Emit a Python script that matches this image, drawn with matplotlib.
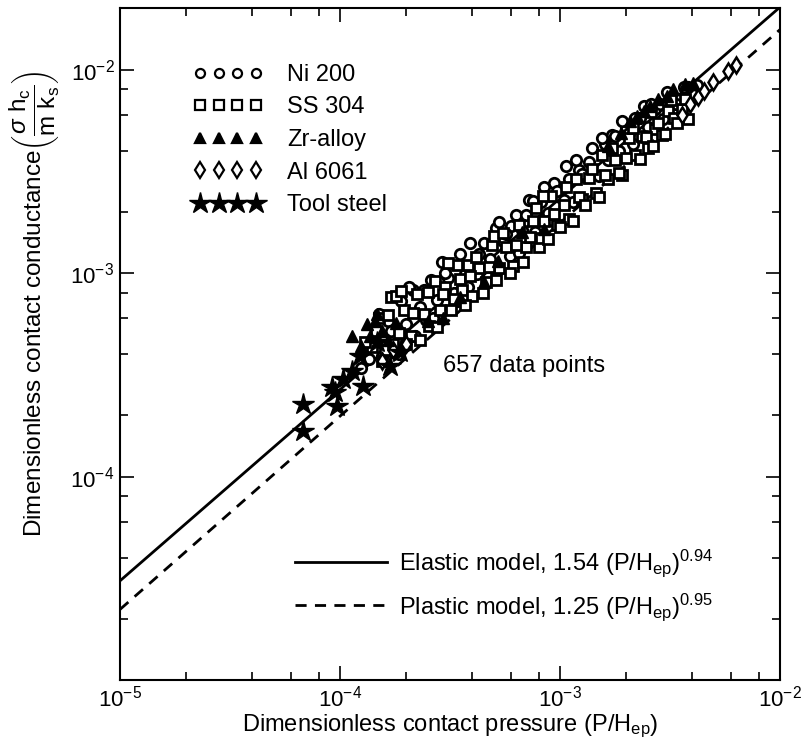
import matplotlib
matplotlib.use('Agg')
import matplotlib.pyplot as plt
from matplotlib.lines import Line2D
from matplotlib.ticker import LogLocator, NullFormatter
import numpy as np

plt.rcParams['font.family'] = ['Liberation Sans', 'DejaVu Sans']
plt.rcParams['mathtext.fontset'] = 'custom'
plt.rcParams['mathtext.rm'] = 'Liberation Sans'
plt.rcParams['mathtext.it'] = 'Liberation Sans:italic'
plt.rcParams['mathtext.sf'] = 'Liberation Sans'

# Ni 200 (circles)
ni_x = [1.35e-4, 1.45e-4, 1.55e-4, 1.65e-4, 1.75e-4, 1.9e-4, 2.0e-4, 2.15e-4, 2.3e-4, 2.45e-4,
        2.6e-4, 2.75e-4, 2.9e-4, 3.1e-4, 3.3e-4, 3.5e-4, 3.7e-4, 3.9e-4, 4.2e-4, 4.5e-4,
        4.8e-4, 5.1e-4, 5.5e-4, 5.9e-4, 6.3e-4, 6.7e-4, 7.2e-4, 7.7e-4, 8.2e-4, 8.8e-4,
        9.4e-4, 1.0e-3, 1.07e-3, 1.14e-3, 1.22e-3, 1.3e-3, 1.4e-3, 1.5e-3, 1.6e-3, 1.72e-3,
        1.85e-3, 2.0e-3, 2.15e-3, 2.3e-3, 2.5e-3, 2.7e-3, 2.95e-3, 3.2e-3, 3.5e-3, 3.8e-3,
        1.25e-4, 2.2e-4, 6.0e-4, 1.1e-3, 2.4e-3,
        1.5e-4, 1.7e-4, 1.85e-4, 2.05e-4, 2.4e-4, 2.65e-4, 3.0e-4, 3.4e-4, 3.8e-4, 4.3e-4,
        4.7e-4, 5.3e-4, 5.7e-4, 6.5e-4, 7.0e-4, 7.5e-4, 8.5e-4, 9.1e-4, 9.7e-4, 1.04e-3,
        1.18e-3, 1.26e-3, 1.35e-3, 1.55e-3, 1.65e-3, 1.78e-3, 1.92e-3, 2.05e-3, 2.2e-3, 2.6e-3,
        2.85e-3, 3.05e-3, 3.35e-3, 3.65e-3, 4.2e-3]
ni_y = [3.8e-4, 4.6e-4, 3.9e-4, 5.8e-4, 4.1e-4, 7.3e-4, 5.6e-4, 8.3e-4, 6.8e-4, 5.9e-4,
        9.3e-4, 7.4e-4, 1.13e-3, 9.5e-4, 8.0e-4, 1.24e-3, 9.9e-4, 1.41e-3, 9.9e-4, 1.41e-3,
        1.17e-3, 1.66e-3, 1.44e-3, 1.21e-3, 1.94e-3, 1.62e-3, 2.28e-3, 1.6e-3, 2.24e-3, 1.98e-3,
        2.77e-3, 2.38e-3, 3.35e-3, 2.23e-3, 3.2e-3, 2.96e-3, 4.1e-3, 3.0e-3, 4.3e-3, 4.8e-3,
        4.0e-3, 5.25e-3, 4.3e-3, 5.8e-3, 5.2e-3, 6.4e-3, 5.7e-3, 7.6e-3, 7.2e-3, 8.2e-3,
        3.4e-4, 4.9e-4, 1.7e-3, 2.9e-3, 6.6e-3,
        6.3e-4, 5.2e-4, 4.0e-4, 8.5e-4, 8.3e-4, 6.0e-4, 1.0e-3, 7.3e-4, 8.5e-4, 1.24e-3,
        9.6e-4, 1.79e-3, 1.55e-3, 1.26e-3, 1.93e-3, 2.27e-3, 2.65e-3, 1.82e-3, 2.54e-3, 2.3e-3,
        3.6e-3, 3.07e-3, 3.5e-3, 4.6e-3, 3.6e-3, 4.7e-3, 5.6e-3, 4.9e-3, 5.8e-3, 6.8e-3,
        6.8e-3, 7.8e-3, 6.8e-3, 8.2e-3, 8.4e-3]

# SS 304 (squares)
ss_x = [1.4e-4, 1.5e-4, 1.6e-4, 1.7e-4, 1.8e-4, 1.85e-4, 1.95e-4, 2.1e-4, 2.25e-4, 2.4e-4,
        2.55e-4, 2.7e-4, 2.85e-4, 3.0e-4, 3.2e-4, 3.4e-4, 3.6e-4, 3.8e-4, 4.0e-4, 4.3e-4,
        4.6e-4, 4.9e-4, 5.3e-4, 5.7e-4, 6.1e-4, 6.5e-4, 7.0e-4, 7.5e-4, 8.0e-4, 8.5e-4,
        9.1e-4, 9.7e-4, 1.04e-3, 1.1e-3, 1.18e-3, 1.26e-3, 1.35e-3, 1.45e-3, 1.55e-3, 1.65e-3,
        1.78e-3, 1.92e-3, 2.05e-3, 2.2e-3, 2.35e-3, 2.5e-3, 2.7e-3, 2.9e-3, 3.1e-3, 3.3e-3,
        3.6e-3, 1.3e-4, 5.0e-4, 8.4e-4, 2.6e-3,
        1.45e-4, 1.55e-4, 1.65e-4, 1.75e-4, 1.9e-4, 2.0e-4, 2.15e-4, 2.3e-4, 2.5e-4, 2.75e-4,
        2.95e-4, 3.1e-4, 3.3e-4, 3.5e-4, 3.7e-4, 3.9e-4, 4.15e-4, 4.45e-4, 4.75e-4, 5.1e-4,
        5.5e-4, 5.9e-4, 6.3e-4, 6.8e-4, 7.3e-4, 7.8e-4, 8.2e-4, 8.8e-4, 9.4e-4, 1.0e-3,
        1.07e-3, 1.14e-3, 1.22e-3, 1.3e-3, 1.4e-3, 1.5e-3, 1.6e-3, 1.72e-3, 1.85e-3, 2.0e-3,
        2.15e-3, 2.3e-3, 2.45e-3, 2.65e-3, 2.8e-3, 3.0e-3, 3.2e-3, 3.4e-3, 3.7e-3, 3.8e-3]
ss_y = [4.35e-4, 6.0e-4, 4.2e-4, 7.6e-4, 7.7e-4, 5.1e-4, 6.6e-4, 4.9e-4, 7.9e-4, 6.3e-4,
        5.5e-4, 9.1e-4, 6.6e-4, 8.5e-4, 6.6e-4, 1.1e-3, 8.3e-4, 1.1e-3, 7.7e-4, 1.06e-3,
        9.0e-4, 1.37e-3, 1.06e-3, 1.35e-3, 1.08e-3, 1.73e-3, 1.34e-3, 1.8e-3, 1.35e-3, 1.8e-3,
        2.4e-3, 1.72e-3, 2.15e-3, 1.84e-3, 2.9e-3, 2.32e-3, 2.93e-3, 2.48e-3, 3.8e-3, 2.9e-3,
        3.6e-3, 3.05e-3, 4.6e-3, 3.8e-3, 4.7e-3, 4.1e-3, 5.1e-3, 4.8e-3, 6.3e-3, 5.8e-3,
        6.4e-3, 4.6e-4, 1.52e-3, 2.4e-3, 6.2e-3,
        5.2e-4, 3.7e-4, 6.2e-4, 4.5e-4, 8.2e-4, 4.5e-4, 6.4e-4, 4.7e-4, 8.1e-4, 5.45e-4,
        7.9e-4, 1.12e-3, 7.5e-4, 9.4e-4, 7.0e-4, 9.7e-4, 1.2e-3, 8.0e-4, 1.07e-3, 9.3e-4,
        1.57e-3, 1.0e-3, 1.37e-3, 1.14e-3, 1.5e-3, 2.1e-3, 1.48e-3, 1.47e-3, 1.96e-3, 1.68e-3,
        2.66e-3, 1.8e-3, 2.37e-3, 2.15e-3, 3.25e-3, 2.37e-3, 3.03e-3, 4.1e-3, 3.1e-3, 3.7e-3,
        5.15e-3, 3.64e-3, 4.65e-3, 4.2e-3, 5.5e-3, 4.85e-3, 7.1e-3, 5.5e-3, 7.2e-3, 5.7e-3]

# Zr-alloy (filled triangles)
zr_x = [1.13e-4, 1.25e-4, 1.33e-4, 1.37e-4, 1.44e-4, 1.47e-4, 1.55e-4, 1.65e-4, 1.8e-4,
        2.5e-4, 2.94e-4, 3.5e-4, 4.5e-4, 5.2e-4, 6.7e-4, 8.5e-4,
        1.65e-3, 1.9e-3, 2.08e-3, 2.24e-3, 2.4e-3, 2.56e-3, 2.8e-3, 3.06e-3, 3.27e-3, 3.7e-3,
        4.03e-3]
zr_y = [4.9e-4, 4.4e-4, 5.6e-4, 4.9e-4, 5.8e-4, 6.3e-4, 5.2e-4, 4.7e-4, 5.7e-4,
        5.8e-4, 6.0e-4, 7.6e-4, 9.0e-4, 1.15e-3, 1.6e-3, 1.65e-3,
        4.2e-3, 4.9e-3, 5.6e-3, 5.9e-3, 6.3e-3, 6.6e-3, 7.2e-3, 7.4e-3, 8.0e-3, 8.5e-3,
        8.6e-3]

# Al 6061 (open diamonds)
al_x = [1.55e-4, 1.75e-4, 2.0e-4, 3.6e-3, 3.9e-3, 4.24e-3, 4.5e-3, 4.95e-3, 5.8e-3, 6.3e-3]
al_y = [3.7e-4, 4.2e-4, 4.5e-4, 6.0e-3, 6.8e-3, 7.3e-3, 7.9e-3, 8.7e-3, 9.8e-3, 1.05e-2]

# Tool steel (stars)
ts_x = [6.8e-5, 6.8e-5, 9.2e-5, 9.7e-5, 9.5e-5, 1.03e-4, 1.27e-4, 1.23e-4, 1.69e-4, 1.87e-4,
        1.47e-4, 1.13e-4]
ts_y = [2.28e-4, 1.68e-4, 2.76e-4, 2.23e-4, 2.61e-4, 3.02e-4, 2.79e-4, 3.92e-4, 3.50e-4, 4.10e-4,
        4.59e-4, 3.31e-4]

# model fits
elastic_c, elastic_n = 1.54, 0.94
plastic_c, plastic_n = 1.25, 0.95

fig = plt.figure(figsize=(8.03, 7.40), dpi=100)
ax = fig.add_axes([120 / 803, 60 / 740, 660 / 803, 672 / 740])

xl = np.array([1e-5, 1e-2])
ax.plot(xl, elastic_c * xl ** elastic_n, 'k-', lw=2)
ax.plot(xl, plastic_c * xl ** plastic_n, 'k--', lw=2, dashes=(4, 3))

ax.plot(ni_x, ni_y, 'o', ms=7.5, mfc='white', mec='black', mew=2, ls='none')
ax.plot(ss_x, ss_y, 's', ms=7.5, mfc='white', mec='black', mew=2, ls='none')
ax.plot(al_x, al_y, 'd', ms=8.5, mfc='white', mec='black', mew=1.8, ls='none')
ax.plot(zr_x, zr_y, '^', ms=8.5, mfc='black', mec='black', ls='none')
ax.plot(ts_x, ts_y, '*', ms=16, mfc='black', mec='black', ls='none')

ax.set_xscale('log')
ax.set_yscale('log')
ax.set_xlim(1e-5, 1e-2)
ax.set_ylim(1e-5, 2.01e-2)
ax.set_yticks([1e-4, 1e-3, 1e-2])
for a in (ax.xaxis, ax.yaxis):
    a.set_minor_locator(LogLocator(base=10, subs=(2, 4, 6, 8)))
    a.set_minor_formatter(NullFormatter())
ax.tick_params(which='both', direction='in', top=True, right=True, labelsize=16, width=1.2)
ax.tick_params(which='major', length=10, pad=4)
ax.tick_params(which='minor', length=6)
for s in ax.spines.values():
    s.set_linewidth(1.5)

ax.set_xlabel('Dimensionless contact pressure (P/H$_{\\rm ep}$)', fontsize=17, labelpad=1)
ax.set_ylabel('Dimensionless contact conductance'
              '$\\left(\\dfrac{\\sigma\\ \\rm h_c}{\\rm m\\ k_s}\\right)$', fontsize=17.5)
ax.yaxis.set_label_coords(-0.088, 0.56)

ax.text(0.489, 0.467, '657 data points', transform=ax.transAxes, ha='left', va='center',
        fontsize=17)

mk = dict(ls='none', mec='black', mew=1.6)
handles = [Line2D([], [], marker='o', ms=6.5, mfc='white', **mk),
           Line2D([], [], marker='s', ms=6.5, mfc='white', **mk),
           Line2D([], [], marker='^', ms=7.5, mfc='black', **mk),
           Line2D([], [], marker='d', ms=8, mfc='white', **mk),
           Line2D([], [], marker='*', ms=16, mfc='black', ls='none', mec='black')]
labels = ['Ni 200', 'SS 304', 'Zr-alloy', 'Al 6061', 'Tool steel']
leg1 = ax.legend(handles, labels, numpoints=4, loc='upper left', bbox_to_anchor=(0.11, 0.917),
                 frameon=False, fontsize=17, handlelength=3.0, handletextpad=1.0,
                 labelspacing=0.45, borderpad=0, borderaxespad=0)
ax.add_artist(leg1)

line_handles = [Line2D([], [], color='black', lw=2),
                Line2D([], [], color='black', lw=2, ls='--', dashes=(4, 3))]
line_labels = ['Elastic model, 1.54 (P/H$_{\\rm ep}$)$^{0.94}$',
               'Plastic model, 1.25 (P/H$_{\\rm ep}$)$^{0.95}$']
ax.legend(line_handles, line_labels, loc='upper left', bbox_to_anchor=(0.265, 0.197),
          frameon=False, fontsize=17, handlelength=3.9, handletextpad=0.5,
          labelspacing=0.5, borderpad=0, borderaxespad=0)

fig.savefig('out.png', dpi=100)
